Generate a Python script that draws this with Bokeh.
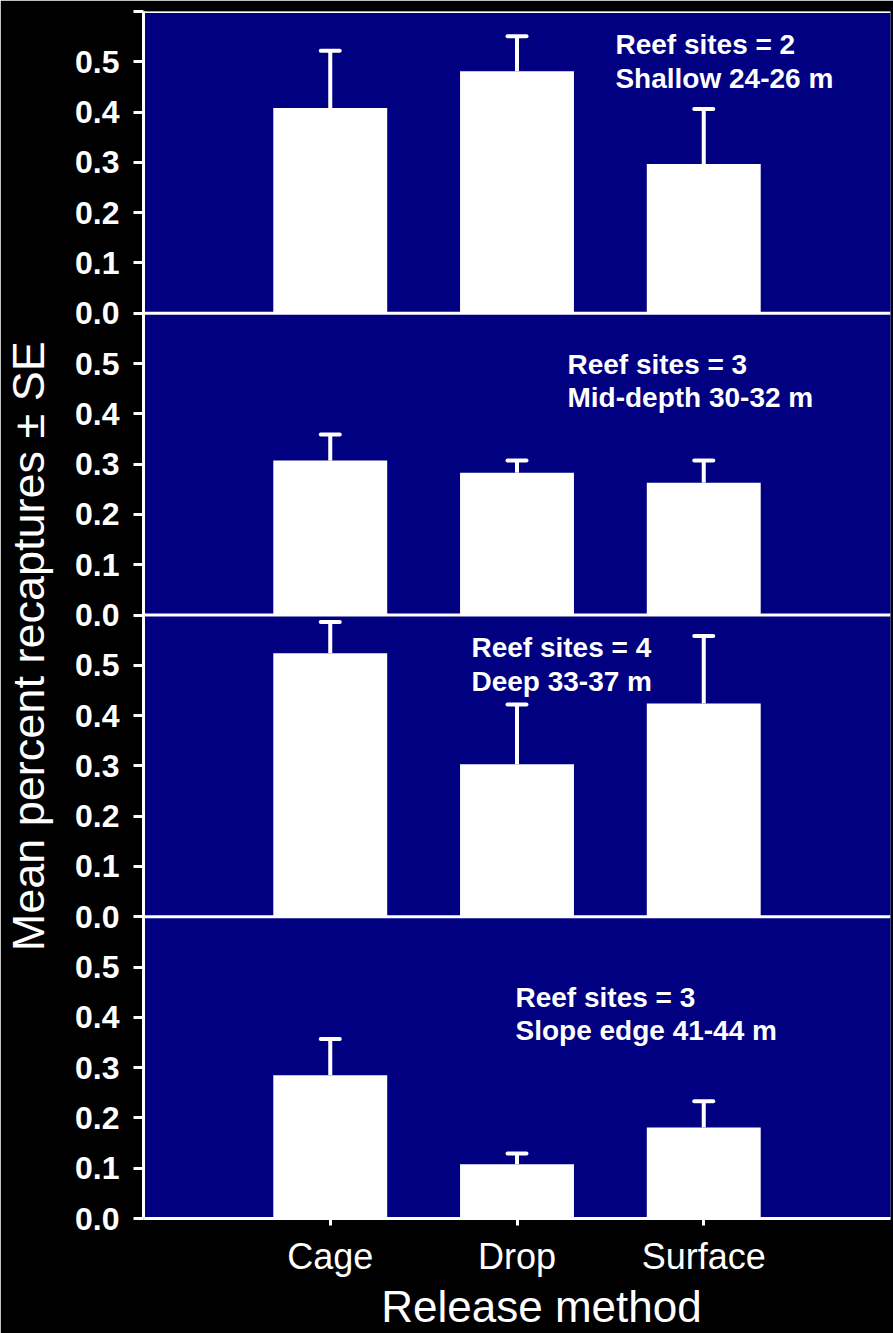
import numpy as np
from bokeh.plotting import figure
from bokeh.models import (ColumnDataSource, Whisker, TeeHead, Span,
                          FixedTicker, CustomJSTickFormatter)
from bokeh.core.properties import value
from bokeh.embed import file_html
from bokeh.resources import INLINE

# ---------------- data ----------------
categories = ["Cage", "Drop", "Surface"]

# panels from top to bottom
panel_line1 = ["Reef sites = 2", "Reef sites = 3", "Reef sites = 4", "Reef sites = 3"]
panel_line2 = ["Shallow 24-26 m", "Mid-depth 30-32 m", "Deep 33-37 m", "Slope edge 41-44 m"]

mean_shallow = [0.408, 0.481, 0.297]
se_shallow = [0.114, 0.070, 0.109]

mean_mid = [0.307, 0.283, 0.263]
se_mid = [0.052, 0.024, 0.044]

mean_deep = [0.524, 0.303, 0.424]
se_deep = [0.062, 0.119, 0.134]

mean_slope = [0.285, 0.108, 0.181]
se_slope = [0.072, 0.021, 0.052]

means = [mean_shallow, mean_mid, mean_deep, mean_slope]
ses = [se_shallow, se_mid, se_deep, se_slope]

y_title = "Mean percent recaptures \u00b1 SE"
x_title = "Release method"

# ---------------- layout ----------------
PANEL_SPAN = 0.6
n_panels = len(means)
offsets = [PANEL_SPAN * (n_panels - 1 - i) for i in range(n_panels)]  # top panel highest

FONT = value("Liberation Sans")
NAVY = "#000080"
NBSP = "\u00a0"

p = figure(width=893, height=1333, x_range=(0, 4), y_range=(0, PANEL_SPAN * n_panels),
           output_backend="svg", toolbar_location=None,
           min_border_left=143, min_border_right=3, min_border_top=11, min_border_bottom=115,
           background_fill_color=NAVY, border_fill_color="black", outline_line_color=None)
p.grid.visible = False

xs = np.arange(1, len(categories) + 1)

bx, btop, bbot, bhi = [], [], [], []
for off, m, s in zip(offsets, means, ses):
    for xi, mi, si in zip(xs, m, s):
        bx.append(float(xi))
        btop.append(off + mi)
        bbot.append(off)
        bhi.append(off + mi + si)
src = ColumnDataSource(dict(x=bx, top=btop, bottom=bbot, hi=bhi))

p.vbar(x="x", top="top", bottom="bottom", width=0.61, source=src,
       fill_color="white", line_color=None)

wh = Whisker(source=src, base="x", upper="hi", lower="top", dimension="height",
             line_color="white", line_width=4,
             upper_head=TeeHead(size=19, line_color="white", line_width=4, line_cap="round"),
             lower_head=None)
p.add_layout(wh)

for k in range(1, n_panels + 1):
    p.add_layout(Span(location=PANEL_SPAN * k, dimension="width",
                      line_color="white", line_width=3))

# panel annotations
ann_x = [2.527, 2.270, 1.756, 1.992]
ann_y1 = [0.535, 0.499, 0.535, 0.439]
ann_y2 = [0.467, 0.433, 0.467, 0.374]
tx, ty, tt = [], [], []
for i in range(n_panels):
    tx += [ann_x[i], ann_x[i]]
    ty += [offsets[i] + ann_y1[i], offsets[i] + ann_y2[i]]
    tt += [panel_line1[i], panel_line2[i]]
p.text(x=tx, y=ty, text=tt, text_color="white", text_font=FONT,
       text_font_style="bold", text_font_size="28px",
       text_baseline="alphabetic", text_align="left")

# y axis
yticks = [round(i * 0.1, 1) for i in range(int(round(PANEL_SPAN * n_panels * 10)) + 1)]
p.yaxis.ticker = FixedTicker(ticks=yticks)
p.yaxis.formatter = CustomJSTickFormatter(code="""
    const i = Math.round(tick * 10);
    if (i >= 24) return "";
    return "0." + (i % 6);
""")
p.yaxis.axis_line_color = "white"
p.yaxis.axis_line_width = 3
p.yaxis.major_tick_line_color = "white"
p.yaxis.major_tick_line_width = 3
p.yaxis.major_tick_out = 10
p.yaxis.major_tick_in = 0
p.yaxis.minor_tick_line_color = None
p.yaxis.major_label_text_color = "white"
p.yaxis.major_label_text_font = "Liberation Sans"
p.yaxis.major_label_text_font_style = "bold"
p.yaxis.major_label_text_font_size = "32px"
p.yaxis.major_label_standoff = 14
p.yaxis.axis_label = y_title + NBSP * 5
p.yaxis.axis_label_text_color = "white"
p.yaxis.axis_label_text_font = "Liberation Sans"
p.yaxis.axis_label_text_font_style = "normal"
p.yaxis.axis_label_text_font_size = "45px"
p.yaxis.axis_label_standoff = 18

# x axis
p.xaxis.ticker = FixedTicker(ticks=[int(v) for v in xs])
p.xaxis.major_label_overrides = {int(v): c for v, c in zip(xs, categories)}
p.xaxis.axis_line_color = "white"
p.xaxis.axis_line_width = 3
p.xaxis.major_tick_line_color = "white"
p.xaxis.major_tick_line_width = 3
p.xaxis.major_tick_out = 7
p.xaxis.major_tick_in = 0
p.xaxis.minor_tick_line_color = None
p.xaxis.major_label_text_color = "white"
p.xaxis.major_label_text_font = "Liberation Sans"
p.xaxis.major_label_text_font_size = "36px"
p.xaxis.major_label_standoff = 10
p.xaxis.axis_label = NBSP * 4 + x_title
p.xaxis.axis_label_text_color = "white"
p.xaxis.axis_label_text_font = "Liberation Sans"
p.xaxis.axis_label_text_font_style = "normal"
p.xaxis.axis_label_text_font_size = "44px"
p.xaxis.axis_label_standoff = 2

open("out.html", "w").write(file_html(p, INLINE))
